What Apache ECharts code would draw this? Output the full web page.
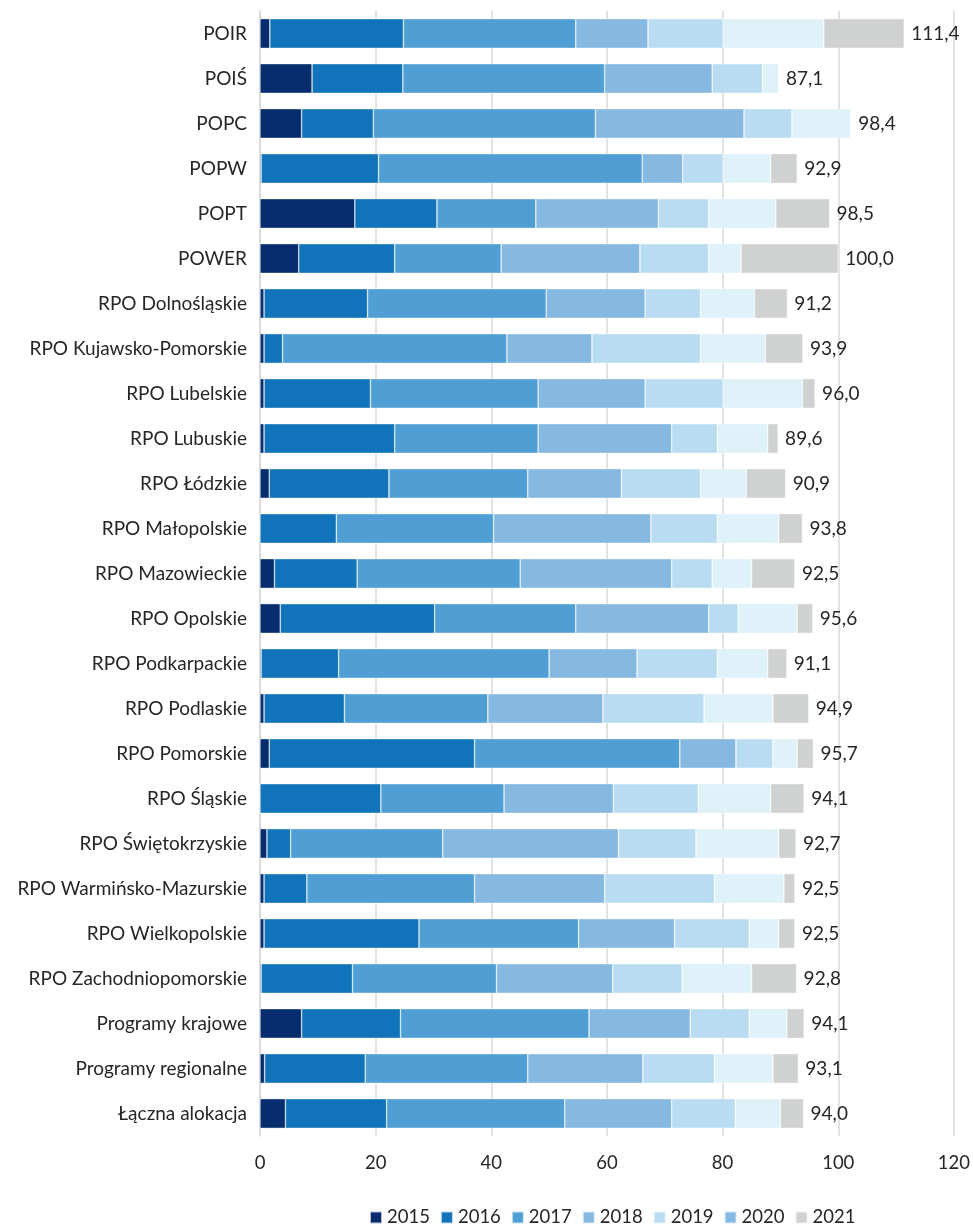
<!DOCTYPE html>
<html>
<head>
<meta charset="utf-8">
<script src="https://cdn.jsdelivr.net/npm/echarts@6/dist/echarts.min.js"></script>
<style>
html, body { margin: 0; padding: 0; background: #fff; }
#container { width: 973px; height: 1226px; }
</style>
</head>
<body>
<div id="container"></div>
<script>
// kategorie (od góry do dołu)
var categories = ['POIR', 'POIŚ', 'POPC', 'POPW', 'POPT', 'POWER',
	'RPO Dolnośląskie', 'RPO Kujawsko-Pomorskie', 'RPO Lubelskie', 'RPO Lubuskie',
	'RPO Łódzkie', 'RPO Małopolskie', 'RPO Mazowieckie', 'RPO Opolskie',
	'RPO Podkarpackie', 'RPO Podlaskie', 'RPO Pomorskie', 'RPO Śląskie',
	'RPO Świętokrzyskie', 'RPO Warmińsko-Mazurskie', 'RPO Wielkopolskie',
	'RPO Zachodniopomorskie', 'Programy krajowe', 'Programy regionalne', 'Łączna alokacja'];

var years = ['2015', '2016', '2017', '2018', '2019', '2020', '2021'];

var v2015 = [1.7, 9.0, 7.2, 0.2, 16.4, 6.7, 0.7, 0.7, 0.7, 0.7, 1.6, 0.0, 2.5, 3.5, 0.2, 0.7, 1.6, 0.0, 1.2, 0.7, 0.7, 0.2, 7.2, 0.8, 4.4];
var v2016 = [23.1, 15.7, 12.4, 20.3, 14.2, 16.6, 17.9, 3.2, 18.4, 22.6, 20.7, 13.2, 14.3, 26.7, 13.4, 13.9, 35.5, 20.9, 4.1, 7.4, 26.8, 15.8, 17.1, 17.4, 17.5];
var v2017 = [29.8, 34.9, 38.4, 45.6, 17.1, 18.4, 30.9, 38.8, 29.0, 24.8, 24.0, 27.2, 28.2, 24.4, 36.4, 24.8, 35.5, 21.3, 26.3, 29.0, 27.6, 24.9, 32.6, 28.1, 30.8];
var v2018 = [12.5, 18.6, 25.7, 7.0, 21.2, 24.0, 17.1, 14.7, 18.5, 23.1, 16.2, 27.2, 26.2, 23.0, 15.2, 19.9, 9.7, 18.9, 30.4, 22.5, 16.6, 20.1, 17.5, 19.9, 18.5];
var v2019 = [13.0, 8.7, 8.3, 7.0, 8.7, 11.9, 9.6, 18.8, 13.5, 7.9, 13.7, 11.5, 7.0, 5.1, 13.9, 17.5, 6.4, 14.7, 13.4, 19.0, 12.9, 12.0, 10.2, 12.4, 11.0];
var v2020 = [17.4, 2.8, 10.2, 8.2, 11.6, 5.6, 9.3, 11.2, 13.7, 8.7, 7.9, 10.6, 6.8, 10.2, 8.7, 11.9, 4.2, 12.5, 14.3, 12.0, 5.1, 12.0, 6.5, 10.1, 7.8];
var v2021 = [13.9, 0.0, 0.0, 4.6, 9.3, 16.8, 5.7, 6.5, 2.2, 1.8, 6.8, 4.1, 7.5, 2.7, 3.3, 6.2, 2.8, 5.8, 3.0, 1.9, 2.8, 7.8, 3.0, 4.4, 4.0];

// sumy podpisane przy słupkach
var totals = [111.4, 87.1, 98.4, 92.9, 98.5, 100.0, 91.2, 93.9, 96.0, 89.6, 90.9, 93.8, 92.5, 95.6, 91.1, 94.9, 95.7, 94.1, 92.7, 92.5, 92.5, 92.8, 94.1, 93.1, 94.0];

var colors = ['#072d6e', '#1174bb', '#4f9fd5', '#86b9e2', '#badcf2', '#dff1f9', '#d0d1d1'];

function draw() {
	var dom = document.getElementById('container');
	var myChart = echarts.init(dom);
	var font = 'Lato, "Open Sans", sans-serif';
	var values = [v2015, v2016, v2017, v2018, v2019, v2020, v2021];

	var series = years.map(function (y, i) {
		var s = {
			name: y,
			type: 'bar',
			stack: 'total',
			barCategoryGap: '34%',
			itemStyle: {
				color: colors[i],
				borderColor: 'rgba(255,255,255,0.7)',
				borderWidth: 0.6
			},
			emphasis: { disabled: true },
			data: values[i]
		};
		if (i === years.length - 1) {
			s.label = {
				show: true,
				position: 'right',
				distance: 7,
				color: '#262626',
				fontFamily: font,
				fontSize: 19,
				formatter: function (p) {
					return totals[p.dataIndex].toFixed(1).replace('.', ',');
				}
			};
		}
		return s;
	});

	var option = {
		animation: false,
		textStyle: { fontFamily: font },
		grid: {
			left: 260,
			right: 18,
			top: 11,
			bottom: 90
		},
		legend: {
			top: 1203,
			left: 364,
			itemWidth: 12,
			itemHeight: 12,
			itemGap: 10,
			icon: 'rect',
			textStyle: { fontSize: 18.5, color: '#262626', fontFamily: font },
			data: years.map(function (y, i) {
				// w legendzie oryginału 2020 ma kolor jak 2018
				return { name: y, itemStyle: { color: i === 5 ? colors[3] : colors[i] } };
			})
		},
		xAxis: {
			type: 'value',
			min: 0,
			max: 120,
			interval: 20,
			axisLine: { show: false },
			axisTick: { show: false },
			axisLabel: { color: '#262626', fontSize: 18.5, margin: 18, fontFamily: font },
			splitLine: { lineStyle: { color: '#d9d9d9', width: 1.5 } }
		},
		yAxis: {
			type: 'category',
			inverse: true,
			data: categories,
			axisLine: { show: true, lineStyle: { color: '#d9d9d9', width: 1.5 } },
			axisTick: { show: false },
			axisLabel: { color: '#262626', fontSize: 19, margin: 13, fontFamily: font }
		},
		series: series
	};
	myChart.setOption(option, true);
}

window.onload = draw;
</script>
</body>
</html>
